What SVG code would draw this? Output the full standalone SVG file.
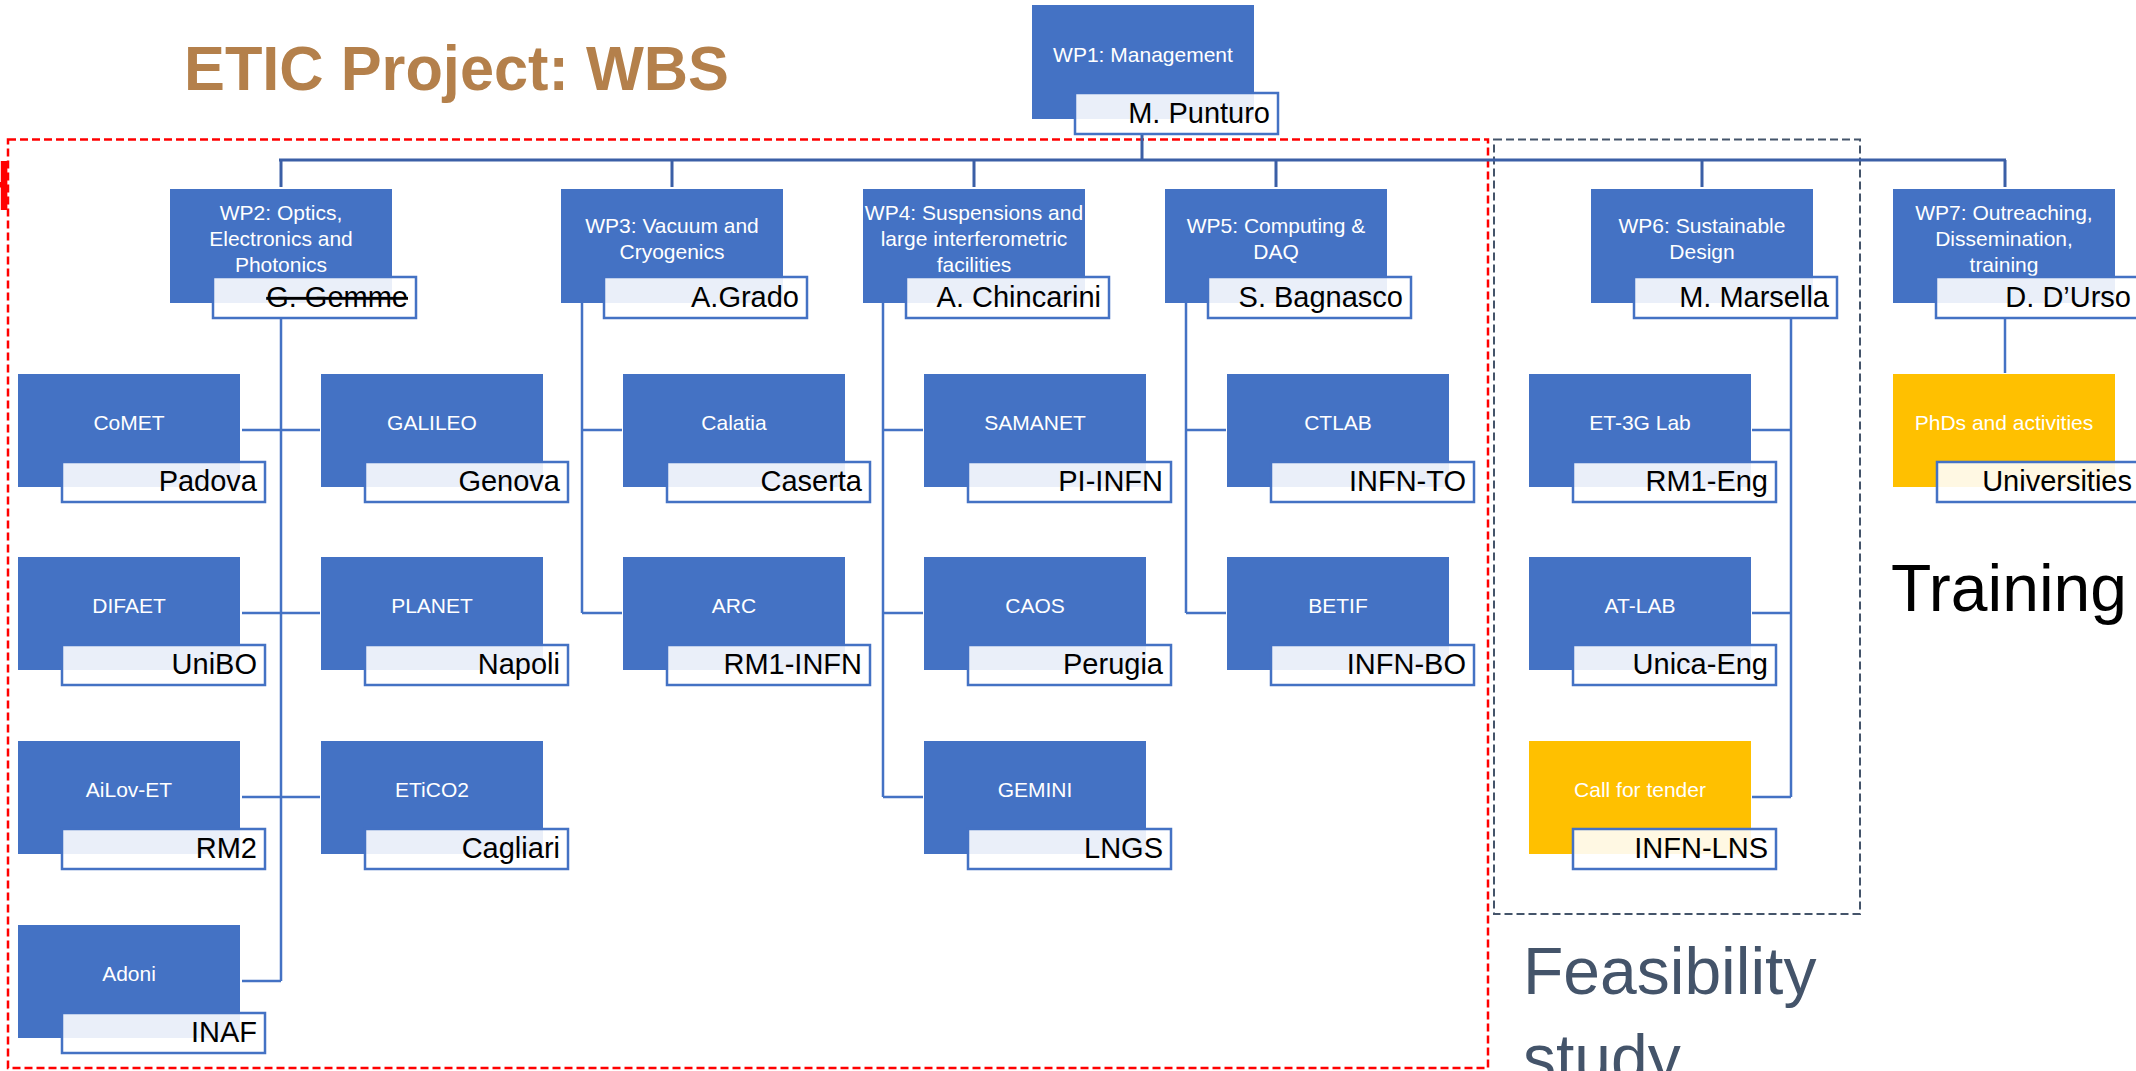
<svg xmlns="http://www.w3.org/2000/svg" width="2136" height="1071" viewBox="0 0 2136 1071">
<style>
.box{fill:#4472C4}
.ybox{fill:#FFC000}
.lbl{fill:#FFFFFF;fill-opacity:0.89;stroke:#4472C4;stroke-width:2.5}
.t{font-family:"Liberation Sans",Arial,sans-serif;font-size:21px;fill:#FFFFFF;text-anchor:middle}
.l{font-family:"Liberation Sans",Arial,sans-serif;font-size:29px;fill:#000000;text-anchor:end}
.c{fill:none;stroke:#4472C4;stroke-width:2.5}
.bus{fill:none;stroke:#3B5FA6;stroke-width:3}
</style>
<rect width="2136" height="1071" fill="#FFFFFF"/>
<text x="184" y="89.5" font-family="Liberation Sans,Arial,sans-serif" font-weight="bold" font-size="63" fill="#B4804B" textLength="545" lengthAdjust="spacingAndGlyphs">ETIC Project: WBS</text>
<text x="13" y="210" font-family="Liberation Sans,Arial,sans-serif" font-size="70" fill="#FF0000" text-anchor="end">H</text>
<rect x="8" y="139.5" width="1480" height="928.5" fill="none" stroke="#FF0000" stroke-width="2.5" stroke-dasharray="8 4"/>
<rect x="1494" y="139.5" width="366" height="774.5" fill="none" stroke="#44546A" stroke-width="2" stroke-dasharray="8 4"/>
<g id="connectors">
<path class="bus" d="M1142 134V160M279 160H2006M281 160V187M672 160V187M974 160V187M1276 160V187M1702 160V187M2005 160V187"/>
<path class="c" d="M281 318V981M242 430H320M242 613H320M242 797H320M242 981H281"/>
<path class="c" d="M582 303V613M582 430H622M582 613H622"/>
<path class="c" d="M883 303V797M883 430H923M883 613H923M883 797H923"/>
<path class="c" d="M1186 303V613M1186 430H1226M1186 613H1226"/>
<path class="c" d="M1791 318V797M1752 430H1791M1752 613H1791M1752 797H1791"/>
<path class="c" d="M2005 318V373"/>
</g>
<g id="wp1" transform="translate(1032,5)"><rect class="box" width="222" height="114"/><text class="t" x="111" y="56.5">WP1: Management</text><rect class="lbl" x="43" y="88" width="203" height="41"/><text class="l" x="238" y="118">M. Punturo</text></g>
<g id="wp2" transform="translate(170,189)"><rect class="box" width="222" height="114"/><text class="t" x="111" y="30.5">WP2: Optics,</text><text class="t" x="111" y="56.5">Electronics and</text><text class="t" x="111" y="83">Photonics</text><rect class="lbl" x="43" y="88" width="203" height="41"/><text class="l" x="238" y="118" text-decoration="line-through">G. Gemme</text></g>
<g id="wp3" transform="translate(561,189)"><rect class="box" width="222" height="114"/><text class="t" x="111" y="43.5">WP3: Vacuum and</text><text class="t" x="111" y="70">Cryogenics</text><rect class="lbl" x="43" y="88" width="203" height="41"/><text class="l" x="238" y="118">A.Grado</text></g>
<g id="wp4" transform="translate(863,189)"><rect class="box" width="222" height="114"/><text class="t" x="111" y="30.5">WP4: Suspensions and</text><text class="t" x="111" y="56.5">large interferometric</text><text class="t" x="111" y="83">facilities</text><rect class="lbl" x="43" y="88" width="203" height="41"/><text class="l" x="238" y="118">A. Chincarini</text></g>
<g id="wp5" transform="translate(1165,189)"><rect class="box" width="222" height="114"/><text class="t" x="111" y="43.5">WP5: Computing &amp;</text><text class="t" x="111" y="70">DAQ</text><rect class="lbl" x="43" y="88" width="203" height="41"/><text class="l" x="238" y="118">S. Bagnasco</text></g>
<g id="wp6" transform="translate(1591,189)"><rect class="box" width="222" height="114"/><text class="t" x="111" y="43.5">WP6: Sustainable</text><text class="t" x="111" y="70">Design</text><rect class="lbl" x="43" y="88" width="203" height="41"/><text class="l" x="238" y="118">M. Marsella</text></g>
<g id="wp7" transform="translate(1893,189)"><rect class="box" width="222" height="114"/><text class="t" x="111" y="30.5">WP7: Outreaching,</text><text class="t" x="111" y="56.5">Dissemination,</text><text class="t" x="111" y="83">training</text><rect class="lbl" x="43" y="88" width="203" height="41"/><text class="l" x="238" y="118">D. D’Urso</text></g>
<g id="comet" transform="translate(18,374)"><rect class="box" width="222" height="113"/><text class="t" x="111" y="55.5">CoMET</text><rect class="lbl" x="44" y="88" width="203" height="40"/><text class="l" x="239" y="117">Padova</text></g>
<g id="difaet" transform="translate(18,557)"><rect class="box" width="222" height="113"/><text class="t" x="111" y="55.5">DIFAET</text><rect class="lbl" x="44" y="88" width="203" height="40"/><text class="l" x="239" y="117">UniBO</text></g>
<g id="ailov" transform="translate(18,741)"><rect class="box" width="222" height="113"/><text class="t" x="111" y="55.5">AiLov-ET</text><rect class="lbl" x="44" y="88" width="203" height="40"/><text class="l" x="239" y="117">RM2</text></g>
<g id="adoni" transform="translate(18,925)"><rect class="box" width="222" height="113"/><text class="t" x="111" y="55.5">Adoni</text><rect class="lbl" x="44" y="88" width="203" height="40"/><text class="l" x="239" y="117">INAF</text></g>
<g id="galileo" transform="translate(321,374)"><rect class="box" width="222" height="113"/><text class="t" x="111" y="55.5">GALILEO</text><rect class="lbl" x="44" y="88" width="203" height="40"/><text class="l" x="239" y="117">Genova</text></g>
<g id="planet" transform="translate(321,557)"><rect class="box" width="222" height="113"/><text class="t" x="111" y="55.5">PLANET</text><rect class="lbl" x="44" y="88" width="203" height="40"/><text class="l" x="239" y="117">Napoli</text></g>
<g id="etico2" transform="translate(321,741)"><rect class="box" width="222" height="113"/><text class="t" x="111" y="55.5">ETiCO2</text><rect class="lbl" x="44" y="88" width="203" height="40"/><text class="l" x="239" y="117">Cagliari</text></g>
<g id="calatia" transform="translate(623,374)"><rect class="box" width="222" height="113"/><text class="t" x="111" y="55.5">Calatia</text><rect class="lbl" x="44" y="88" width="203" height="40"/><text class="l" x="239" y="117">Caserta</text></g>
<g id="arc" transform="translate(623,557)"><rect class="box" width="222" height="113"/><text class="t" x="111" y="55.5">ARC</text><rect class="lbl" x="44" y="88" width="203" height="40"/><text class="l" x="239" y="117">RM1-INFN</text></g>
<g id="samanet" transform="translate(924,374)"><rect class="box" width="222" height="113"/><text class="t" x="111" y="55.5">SAMANET</text><rect class="lbl" x="44" y="88" width="203" height="40"/><text class="l" x="239" y="117">PI-INFN</text></g>
<g id="caos" transform="translate(924,557)"><rect class="box" width="222" height="113"/><text class="t" x="111" y="55.5">CAOS</text><rect class="lbl" x="44" y="88" width="203" height="40"/><text class="l" x="239" y="117">Perugia</text></g>
<g id="gemini" transform="translate(924,741)"><rect class="box" width="222" height="113"/><text class="t" x="111" y="55.5">GEMINI</text><rect class="lbl" x="44" y="88" width="203" height="40"/><text class="l" x="239" y="117">LNGS</text></g>
<g id="ctlab" transform="translate(1227,374)"><rect class="box" width="222" height="113"/><text class="t" x="111" y="55.5">CTLAB</text><rect class="lbl" x="44" y="88" width="203" height="40"/><text class="l" x="239" y="117">INFN-TO</text></g>
<g id="betif" transform="translate(1227,557)"><rect class="box" width="222" height="113"/><text class="t" x="111" y="55.5">BETIF</text><rect class="lbl" x="44" y="88" width="203" height="40"/><text class="l" x="239" y="117">INFN-BO</text></g>
<g id="et3g" transform="translate(1529,374)"><rect class="box" width="222" height="113"/><text class="t" x="111" y="55.5">ET-3G Lab</text><rect class="lbl" x="44" y="88" width="203" height="40"/><text class="l" x="239" y="117">RM1-Eng</text></g>
<g id="atlab" transform="translate(1529,557)"><rect class="box" width="222" height="113"/><text class="t" x="111" y="55.5">AT-LAB</text><rect class="lbl" x="44" y="88" width="203" height="40"/><text class="l" x="239" y="117">Unica-Eng</text></g>
<g id="tender" transform="translate(1529,741)"><rect class="ybox" width="222" height="113"/><text class="t" x="111" y="55.5">Call for tender</text><rect class="lbl" x="44" y="88" width="203" height="40"/><text class="l" x="239" y="117">INFN-LNS</text></g>
<g id="phds" transform="translate(1893,374)"><rect class="ybox" width="222" height="113"/><text class="t" x="111" y="55.5">PhDs and activities</text><rect class="lbl" x="44" y="88" width="203" height="40"/><text class="l" x="239" y="117">Universities</text></g>
<text x="1891" y="611" font-family="Liberation Sans,Arial,sans-serif" font-size="66" fill="#000000">Training</text>
<text font-family="Liberation Sans,Arial,sans-serif" font-size="66" fill="#44546A"><tspan x="1523" y="994">Feasibility</tspan><tspan x="1523" y="1081">study</tspan></text>
</svg>
